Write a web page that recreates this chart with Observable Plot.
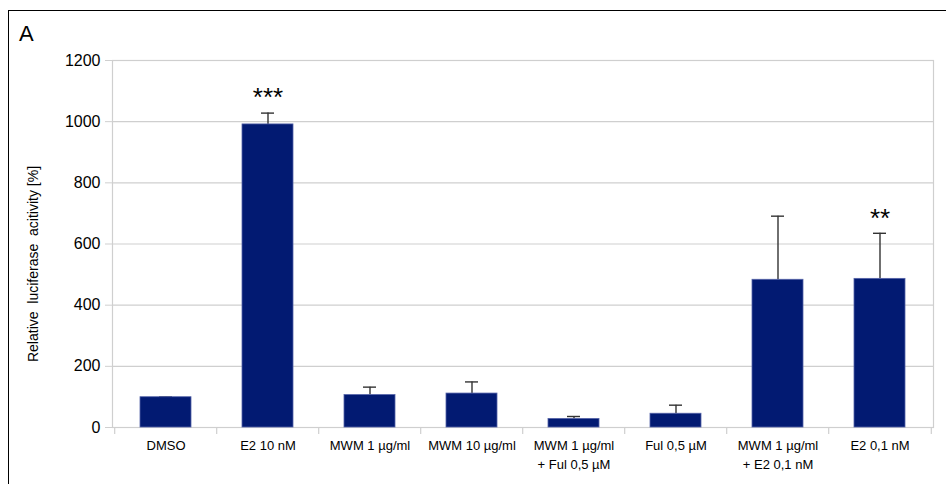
<!DOCTYPE html>
<html>
<head>
<meta charset="utf-8">
<script src="https://cdn.jsdelivr.net/npm/d3@7"></script>
<script src="https://cdn.jsdelivr.net/npm/@observablehq/plot@0.6"></script>
<style>
  html, body { margin: 0; padding: 0; background: #fff; }
  #wrap { position: relative; width: 946px; height: 484px; overflow: hidden; font-family: "Liberation Sans", Arial, sans-serif; }
  #border { position: absolute; left: 8px; top: 10px; width: 940px; height: 480px; border-top: 1.5px solid #000; border-left: 1.5px solid #000; box-sizing: border-box; }
  #panel { position: absolute; left: 19px; top: 23px; font-size: 22px; line-height: 22px; color: #000; }
  #ylabel { position: absolute; left: 33px; top: 264px; transform: translate(-50%, -50%) rotate(-90deg); font-size: 14px; line-height: 14px; white-space: pre; color: #000; }
  #chart { position: absolute; left: 0; top: 0; }
</style>
</head>
<body>
<div id="wrap">
  <div id="chart"></div>
  <div id="border"></div>
  <div id="panel">A</div>
  <div id="ylabel"></div>
</div>
<script>
const categories = ["DMSO", "E2 10 nM", "MWM 1 µg/ml", "MWM 10 µg/ml", "MWM 1 µg/ml\n+ Ful 0,5 µM", "Ful 0,5 µM", "MWM 1 µg/ml\n+ E2 0,1 nM", "E2 0,1 nM"];
const means = [99, 991, 106, 111, 28, 45, 483, 486];
const errors = [1, 37, 26, 38, 8, 28, 208, 149];
const significance = ["", "***", "", "", "", "", "", "**"];
const yTicks = [0, 200, 400, 600, 800, 1000, 1200];
const yLabel = "Relative  luciferase  acitivity [%]";

document.getElementById("ylabel").textContent = yLabel;

const data = categories.map((c, i) => ({cat: c, mean: means[i], err: errors[i], top: means[i] + errors[i], sig: significance[i]}));

const W = 946, H = 484, mL = 112, mR = 13, mT = 60, mB = 57;
const step = (W - mL - mR) / categories.length;

const chart = Plot.plot({
  width: W, height: H,
  marginLeft: mL, marginRight: mR, marginTop: mT, marginBottom: mB,
  style: {fontFamily: "'Liberation Sans', Arial, sans-serif", fontSize: "13px", color: "#000", background: "transparent"},
  x: {domain: categories, paddingInner: 0.5, paddingOuter: 0.25, label: null},
  y: {domain: [0, 1200], label: null},
  marks: [
    Plot.gridY(yTicks, {stroke: "#cfcfcf", strokeOpacity: 1, strokeWidth: 1.2}),
    Plot.frame({stroke: "#cfcfcf", strokeWidth: 1.2}),
    Plot.ruleX(categories, {x: d => d, y1: 0, y2: 0, insetBottom: -7, dx: -step / 2, stroke: "#cfcfcf", strokeWidth: 1.2}),
    Plot.ruleX(categories.slice(-1), {x: d => d, y1: 0, y2: 0, insetBottom: -7, dx: step / 2, stroke: "#cfcfcf", strokeWidth: 1.2}),
    Plot.ruleX(data, {x: "cat", y1: "mean", y2: "top", stroke: "#333", strokeWidth: 1.4}),
    Plot.tickY(data, {x: "cat", y: "top", stroke: "#333", strokeWidth: 1.4, insetLeft: 19, insetRight: 19}),
    Plot.barY(data, {x: "cat", y: "mean", fill: "#021a72", stroke: "#5463a8", strokeWidth: 0.8}),
    Plot.text(data.filter(d => d.sig), {x: "cat", y: "top", text: "sig", dy: -15, fontSize: 26, lineAnchor: "middle", fill: "#000", letterSpacing: 2}),
    Plot.axisY(yTicks, {tickSize: 7, tickPadding: 5, stroke: "#cfcfcf", fill: "#000", fontSize: 16, tickFormat: d => String(d), label: null}),
    Plot.axisX({tickSize: 0, tickPadding: 9, fontSize: 13, lineHeight: 1.45, fill: "#000", label: null})
  ]
});
document.getElementById("chart").appendChild(chart);
</script>
</body>
</html>
